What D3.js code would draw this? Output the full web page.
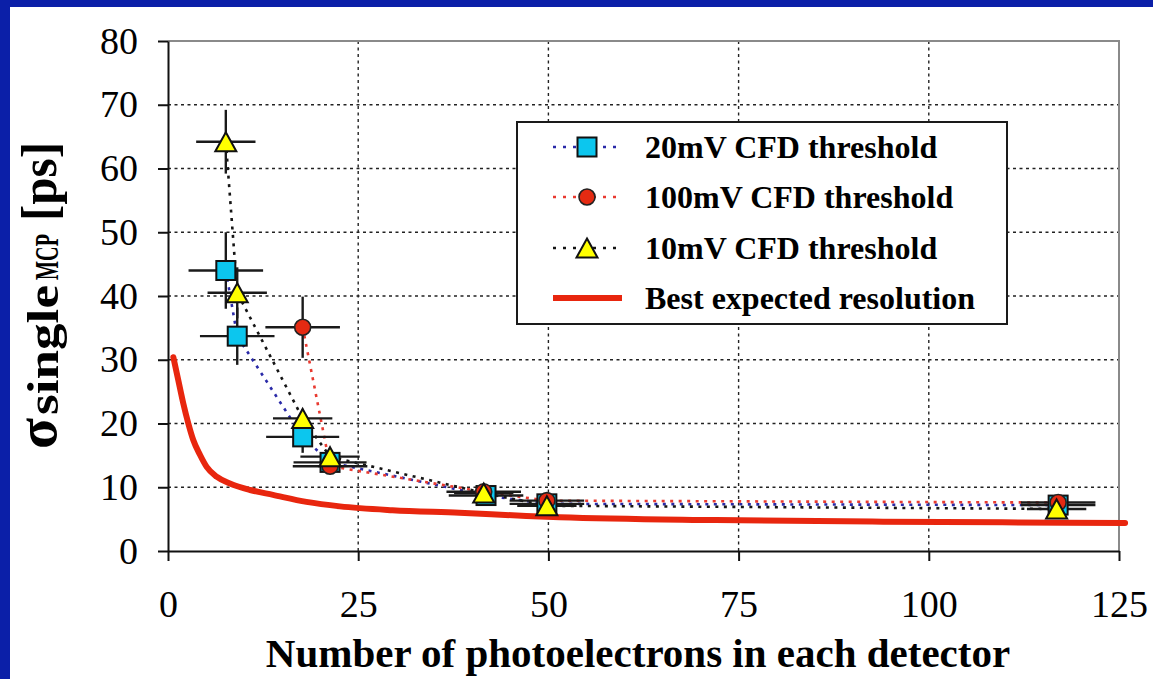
<!DOCTYPE html>
<html>
<head>
<meta charset="utf-8">
<script src="https://cdn.jsdelivr.net/npm/d3@7"></script>
<style>
  html, body { margin: 0; padding: 0; background: #0b1fa8; }
  svg { display: block; }
</style>
</head>
<body>
<svg id="chart" width="1153" height="679"></svg>
<script>
// ---- data -------------------------------------------------------------
// 20 mV CFD threshold (squares)
const n20      = [7.6, 9.1, 17.7, 21.3, 41.8, 49.8, 117.0];
const sig20    = [44.0, 33.7, 17.9, 13.9, 8.7, 7.4, 7.2];
const nErr20   = [4.9, 4.9, 4.8, 4.8, 4.9, 4.9, 4.9];
const sigErr20 = [6.0, 4.5, 2.5, 1.0, 0.8, 0.8, 0.8];

// 100 mV CFD threshold (circles)
const n100      = [17.7, 21.3, 41.5, 49.8, 117.0];
const sig100    = [35.1, 13.3, 9.3, 7.9, 7.6];
const nErr100   = [4.9, 4.9, 4.9, 4.9, 4.9];
const sigErr100 = [4.8, 1.0, 0.8, 0.8, 0.8];

// 10 mV CFD threshold (triangles)
const n10      = [7.6, 9.1, 17.7, 21.3, 41.5, 49.8, 116.8];
const sig10    = [64.2, 40.5, 20.8, 14.8, 9.1, 7.1, 6.6];
const nErr10   = [3.9, 3.9, 3.9, 3.9, 3.9, 3.9, 3.9];
const sigErr10 = [5.0, 4.0, 1.5, 0.8, 0.5, 0.5, 0.5];

// Best expected resolution curve
const bestN     = [0.7, 1.35, 2.0, 2.67, 3.32, 4.2, 5.08, 6.39, 8.14, 10.8, 13.8, 18.2, 22.6, 29.5, 38.3, 47.1, 51.5, 72, 94, 118, 125.8];
const bestSigma = [30.4, 26.8, 23.2, 20.0, 17.4, 15.1, 13.2, 11.65, 10.6, 9.57, 8.8, 7.7, 7.0, 6.4, 6.0, 5.5, 5.3, 4.85, 4.6, 4.45, 4.4];

// axis ticks and labels
const xTicks = [0, 25, 50, 75, 100, 125];
const yTicks = [0, 10, 20, 30, 40, 50, 60, 70, 80];
const legendLabels = ["20mV CFD threshold", "100mV CFD threshold", "10mV CFD threshold", "Best expected resolution"];
const xTitle = "Number of photoelectrons in each detector";

// ---- layout -----------------------------------------------------------
const W = 1153, H = 679;
const SERIF = "'Liberation Serif', 'Times New Roman', Times, serif";
const svg = d3.select("#chart");

svg.append("rect").attr("width", W).attr("height", H).attr("fill", "#0b1fa8");
svg.append("rect").attr("x", 10).attr("y", 7).attr("width", W - 10).attr("height", H - 7).attr("fill", "#ffffff");

const x = d3.scaleLinear().domain([0, 125]).range([168, 1119]);
const y = d3.scaleLinear().domain([0, 80]).range([551, 41]);

// dotted grid
const grid = svg.append("g");
grid.selectAll("line.h").data(yTicks.filter(v => v > 0 && v < 80)).join("line")
  .attr("x1", x(0)).attr("x2", x(125))
  .attr("y1", d => y(d)).attr("y2", d => y(d))
  .attr("stroke", "#222").attr("stroke-width", 1.4).attr("stroke-dasharray", "3,3.5");
grid.selectAll("line.v").data(xTicks.filter(v => v > 0 && v < 125)).join("line")
  .attr("x1", d => x(d)).attr("x2", d => x(d))
  .attr("y1", y(0)).attr("y2", y(80))
  .attr("stroke", "#222").attr("stroke-width", 1.4).attr("stroke-dasharray", "3,3.5");

// plot frame (top / right)
svg.append("path")
  .attr("d", `M${x(0)},${y(80)}H${x(125)}V${y(0)}`)
  .attr("fill", "none").attr("stroke", "#8a8a8a").attr("stroke-width", 2);

// axes
const yAxis = svg.append("g").attr("transform", `translate(${x(0)},0)`)
  .call(d3.axisLeft(y).tickValues(yTicks).tickSize(10).tickSizeOuter(0).tickPadding(20));
const xAxis = svg.append("g").attr("transform", `translate(0,${y(0)})`)
  .call(d3.axisBottom(x).tickValues(xTicks).tickSize(10).tickSizeOuter(0).tickPadding(29));
[xAxis, yAxis].forEach(g => {
  g.select(".domain").attr("stroke", "#111").attr("stroke-width", 2);
  g.selectAll(".tick line").attr("stroke", "#111").attr("stroke-width", 2);
  g.selectAll(".tick text").attr("font-family", SERIF).attr("font-size", 38).attr("fill", "#000");
});

// best expected resolution
svg.append("path")
  .datum(bestN.map((n, i) => [n, bestSigma[i]]))
  .attr("d", d3.line().x(d => x(d[0])).y(d => y(d[1])).curve(d3.curveMonotoneX))
  .attr("fill", "none").attr("stroke", "#e8260e").attr("stroke-width", 6)
  .attr("stroke-linejoin", "round").attr("stroke-linecap", "round");

// measured series
const series = [
  { key: "s20",  n: n20,  s: sig20,  en: nErr20,  es: sigErr20,  line: "#2a2aa8", shape: "square" },
  { key: "s100", n: n100, s: sig100, en: nErr100, es: sigErr100, line: "#e83a30", shape: "circle" },
  { key: "s10",  n: n10,  s: sig10,  en: nErr10,  es: sigErr10,  line: "#151515", shape: "triangle" }
];
series.forEach(sr => { sr.pts = sr.n.map((n, i) => ({ n, s: sr.s[i], en: sr.en[i], es: sr.es[i] })); });

const lineGen = d3.line().x(d => x(d.n)).y(d => y(d.s));
series.forEach(sr => {
  svg.append("path").datum(sr.pts).attr("d", lineGen)
    .attr("fill", "none").attr("stroke", sr.line).attr("stroke-width", 2.6)
    .attr("stroke-dasharray", "3,5.5");
});

// error bars
series.forEach(sr => {
  const g = svg.append("g").attr("stroke", "#1a1a1a").attr("stroke-width", 2.4);
  g.selectAll("line.xe").data(sr.pts).join("line")
    .attr("x1", d => x(d.n - d.en)).attr("x2", d => x(d.n + d.en))
    .attr("y1", d => y(d.s)).attr("y2", d => y(d.s));
  g.selectAll("line.ye").data(sr.pts).join("line")
    .attr("x1", d => x(d.n)).attr("x2", d => x(d.n))
    .attr("y1", d => y(d.s - d.es)).attr("y2", d => y(d.s + d.es));
});

// marker drawing
function marker(g, shape, cx, cy) {
  if (shape === "square") {
    g.append("rect").attr("x", cx - 9.5).attr("y", cy - 9.5).attr("width", 19).attr("height", 19)
      .attr("fill", "#0cc6ee").attr("stroke", "#111").attr("stroke-width", 2);
  } else if (shape === "circle") {
    g.append("circle").attr("cx", cx).attr("cy", cy).attr("r", 8)
      .attr("fill", "#e42a12").attr("stroke", "#222").attr("stroke-width", 1.6);
  } else {
    g.append("path").attr("d", `M${cx},${cy - 9.5}L${cx + 10.5},${cy + 9.5}L${cx - 10.5},${cy + 9.5}Z`)
      .attr("fill", "#ffff00").attr("stroke", "#111").attr("stroke-width", 2).attr("stroke-linejoin", "miter");
  }
}
series.forEach(sr => {
  const g = svg.append("g");
  sr.pts.forEach(d => marker(g, sr.shape, x(d.n), y(d.s)));
});

// legend
const lg = svg.append("g");
lg.append("rect").attr("x", 517).attr("y", 122).attr("width", 490).attr("height", 202)
  .attr("fill", "#fff").attr("stroke", "#1a1a1a").attr("stroke-width", 2);
const rowY = [147, 197, 248, 298];
series.forEach((sr, i) => {
  lg.append("line").attr("x1", 553).attr("x2", 620).attr("y1", rowY[i]).attr("y2", rowY[i])
    .attr("stroke", sr.line).attr("stroke-width", 2.6).attr("stroke-dasharray", "3,7");
  marker(lg, sr.shape, 587, rowY[i]);
});
lg.append("line").attr("x1", 553).attr("x2", 622).attr("y1", rowY[3]).attr("y2", rowY[3])
  .attr("stroke", "#e8260e").attr("stroke-width", 6);
lg.selectAll("text").data(legendLabels).join("text")
  .attr("x", 645).attr("y", (d, i) => rowY[i] + 11)
  .attr("font-family", SERIF).attr("font-weight", "bold").attr("font-size", 32).attr("fill", "#000")
  .text(d => d);

// x axis title
svg.append("text").attr("x", 638).attr("y", 667).attr("text-anchor", "middle")
  .attr("font-family", SERIF).attr("font-weight", "bold").attr("font-size", 41).attr("fill", "#000")
  .text(xTitle);

// y axis title: sigma, subscript, unit
const yt = svg.append("g").attr("transform", "translate(56,449) rotate(-90)")
  .attr("font-family", SERIF).attr("font-weight", "bold").attr("fill", "#000");
yt.append("text").attr("x", 0).attr("y", 0).attr("font-size", 58)
  .attr("textLength", 31).attr("lengthAdjust", "spacingAndGlyphs").text("σ");
yt.append("text").attr("x", 34).attr("y", 2).attr("font-size", 44)
  .attr("textLength", 130).attr("lengthAdjust", "spacingAndGlyphs").text("single");
yt.append("text").attr("x", 169).attr("y", 2).attr("font-size", 34)
  .attr("textLength", 46).attr("lengthAdjust", "spacingAndGlyphs").text("MCP");
yt.append("text").attr("x", 228).attr("y", 0).attr("font-size", 50)
  .attr("textLength", 79).attr("lengthAdjust", "spacingAndGlyphs").text("[ps]");
</script>
</body>
</html>
